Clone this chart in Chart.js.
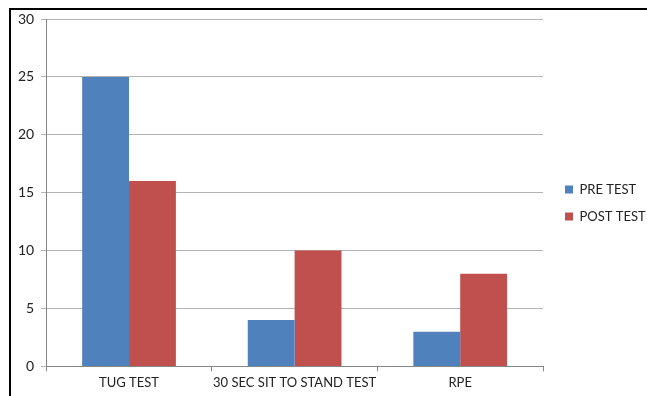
<!DOCTYPE html>
<html>
<head>
<meta charset="utf-8">
<script src="https://cdn.jsdelivr.net/npm/chart.js@4/dist/chart.umd.min.js"></script>
<style>
  html, body { margin: 0; padding: 0; background: #fff; }
  #wrap { position: relative; width: 647px; height: 396px; }
  #frame { position: absolute; left: 9px; top: 8px; width: 700px; height: 400px;
           border-left: 2px solid #000; border-top: 2px solid #000; pointer-events: none; }
</style>
</head>
<body>
<div id="wrap">
  <canvas id="chart" width="647" height="396"></canvas>
  <div id="frame"></div>
</div>
<script>
const categories = ['TUG TEST', '30 SEC SIT TO STAND TEST', 'RPE'];
const preTest = [25, 4, 3];
const postTest = [16, 10, 8];
const yTicks = [0, 5, 10, 15, 20, 25, 30];

// fixed legend column width, then nudge the legend a little right/up
const legendWidth = {
    id: 'legendWidth',
    beforeInit(chart) {
        const origFit = chart.legend.fit;
        chart.legend.fit = function () {
            origFit.bind(chart.legend)();
            this.width = 104;
        };
    },
    afterLayout(chart) {
        chart.legend.left += 8;
        chart.legend.right += 8;
        chart.legend.top -= 4;
        chart.legend.bottom -= 4;
    }
};

const ctx = document.getElementById('chart').getContext('2d');
const chart = new Chart(ctx, {
    type: 'bar',
    data: {
        labels: categories,
        datasets: [
            {
                label: 'PRE TEST',
                data: preTest,
                backgroundColor: '#4f81bd',
                borderWidth: 0
            },
            {
                label: 'POST TEST',
                data: postTest,
                backgroundColor: '#c0504d',
                borderWidth: 0
            }
        ]
    },
    options: {
        responsive: false,
        animation: false,
        devicePixelRatio: 1,
        layout: { padding: { left: 11, top: 19, right: 0, bottom: 1 } },
        datasets: {
            bar: { categoryPercentage: 0.566, barPercentage: 1.0 }
        },
        plugins: {
            title: { display: false },
            tooltip: { enabled: false },
            legend: {
                display: true,
                position: 'right',
                align: 'center',
                labels: {
                    boxWidth: 8,
                    boxHeight: 8,
                    padding: 14,
                    color: '#222',
                    font: { family: 'Lato', size: 13 }
                }
            }
        },
        scales: {
            x: {
                offset: true,
                grid: {
                    offset: true,
                    drawOnChartArea: false,
                    drawTicks: true,
                    tickLength: 5,
                    color: '#868686'
                },
                border: { display: true, color: '#868686', width: 1 },
                ticks: {
                    color: '#222',
                    padding: 4,
                    maxRotation: 0,
                    autoSkip: false,
                    font: { family: 'Lato', size: 13 }
                }
            },
            y: {
                min: 0,
                max: 30,
                afterBuildTicks(axis) {
                    axis.ticks = yTicks.map(v => ({ value: v }));
                },
                grid: {
                    color: '#b3b3b3',
                    tickLength: 5,
                    drawTicks: true
                },
                border: { display: true, color: '#868686', width: 1 },
                ticks: {
                    color: '#222',
                    padding: 7,
                    font: { family: 'Lato', size: 14 }
                }
            }
        }
    },
    plugins: [ legendWidth ]
});
</script>
</body>
</html>
